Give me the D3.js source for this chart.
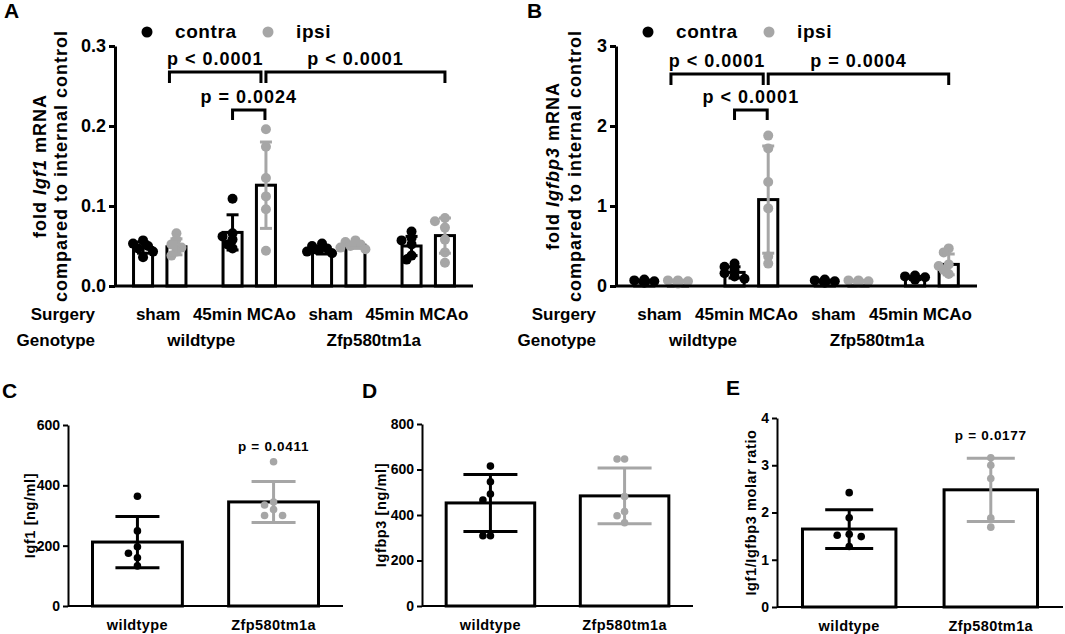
<!DOCTYPE html>
<meta charset="utf-8">
<style>
body { margin: 0; background: #fff; }
svg text { font-family: "Liberation Sans", Arial, sans-serif; font-weight: bold; fill: #000; }
</style>
<body>
<svg width="1065" height="634"></svg>
<script src="https://d3js.org/d3.v7.min.js"></script>
<script>

// ---- data ----
var groups = ["sham_wt", "mcao_wt", "sham_ko", "mcao_ko"],
    sides = ["contra", "ipsi"],
    surgery = ["sham", "45min MCAo", "sham", "45min MCAo"],
    genotypes = ["wildtype", "Zfp580tm1a"];

// bar order: sham wt contra, sham wt ipsi, MCAo wt contra, MCAo wt ipsi, ... same for Zfp580tm1a
var igf1Mean = [0.048, 0.049, 0.067, 0.126, 0.045, 0.051, 0.050, 0.063],
    igf1Sd   = [0.007, 0.010, 0.022, 0.054, 0.005, 0.004, 0.012, 0.022],
    igf1Pts  = [
      [0.057, 0.053, 0.050, 0.047, 0.043, 0.036],
      [0.066, 0.058, 0.052, 0.048, 0.043, 0.038],
      [0.109, 0.066, 0.062, 0.058, 0.052, 0.047],
      [0.196, 0.174, 0.135, 0.112, 0.096, 0.044],
      [0.053, 0.050, 0.047, 0.045, 0.043, 0.041],
      [0.057, 0.055, 0.052, 0.050, 0.048, 0.046],
      [0.068, 0.060, 0.057, 0.052, 0.038, 0.033],
      [0.085, 0.081, 0.073, 0.058, 0.042, 0.029]
    ],
    igf1P = ["p < 0.0001", "p < 0.0001", "p = 0.0024"];

var bp3Mean = [0.06, 0.06, 0.17, 1.08, 0.06, 0.06, 0.10, 0.27],
    bp3Sd   = [0.015, 0.012, 0.07, 0.67, 0.015, 0.012, 0.02, 0.13],
    bp3Pts  = [
      [0.08, 0.07, 0.06, 0.05, 0.05, 0.04],
      [0.07, 0.07, 0.06, 0.06, 0.05, 0.03],
      [0.28, 0.24, 0.20, 0.16, 0.12, 0.09],
      [1.88, 1.72, 1.30, 0.97, 0.37, 0.28],
      [0.08, 0.07, 0.06, 0.05, 0.05, 0.04],
      [0.07, 0.07, 0.06, 0.06, 0.05, 0.04],
      [0.13, 0.12, 0.11, 0.10, 0.09, 0.08],
      [0.47, 0.42, 0.27, 0.25, 0.20, 0.15]
    ],
    bp3P = ["p < 0.0001", "p = 0.0004", "p < 0.0001"];

var serumIgf1Mean = [212, 345], serumIgf1Sd = [85, 68],
    serumIgf1Pts = [[364, 249, 196, 175, 160, 133], [478, 345, 335, 320, 300, 300]],
    serumIgf1P = "p = 0.0411";

var serumBp3Mean = [453, 484], serumBp3Sd = [125, 123],
    serumBp3Pts = [[615, 546, 492, 466, 309, 309], [646, 646, 481, 415, 397, 366]];

var ratioMean = [1.65, 2.48], ratioSd = [0.41, 0.67],
    ratioPts = [[2.42, 1.89, 1.54, 1.52, 1.49, 1.28], [3.16, 3.00, 2.72, 1.88, 1.69]],
    ratioP = "p = 0.0177";

var GREY = "#a6a6a6";
var svg = d3.select("svg");

// simple beeswarm: spread overlapping dots sideways
function swarm(vals, y, r, step, tight) {
  var placed = [];
  return vals.map(function(v) {
    var py = y(v), off = 0;
    var tries = [0, -1, 1, -2, 2, -3, 3];
    for (var i = 0; i < tries.length; i++) {
      var ox = tries[i] * step;
      if (placed.every(function(p) { return Math.hypot(p.x - ox, p.y - py) >= 2 * r * tight; })) { off = ox; break; }
    }
    placed.push({x: off, y: py});
    return {v: v, dx: off};
  });
}

function mrnaPanel(o) {
  var g = svg.append("g");
  var y = d3.scaleLinear().domain([0, o.max]).range([286, 46]);
  var xg = d3.scaleBand().domain(groups).range([o.x0, o.x1]).paddingInner(0.25).paddingOuter(0.125);
  var xs = d3.scaleBand().domain(sides).range([0, xg.bandwidth()]).paddingInner(0.43).paddingOuter(0.22);
  var cx = function(i) { return xg(groups[i >> 1]) + xs(sides[i & 1]) + xs.bandwidth() / 2; };

  // bars
  o.mean.forEach(function(m, i) {
    g.append("rect")
      .attr("x", cx(i) - xs.bandwidth() / 2).attr("width", xs.bandwidth())
      .attr("y", y(m)).attr("height", y(0) - y(m))
      .attr("fill", "#fff").attr("stroke", "#000").attr("stroke-width", 3);
  });
  // points
  o.pts.forEach(function(arr, i) {
    var col = (i & 1) ? GREY : "#000";
    swarm(arr, y, 5, 5, 0.6).forEach(function(p) {
      g.append("circle").attr("cx", cx(i) + p.dx).attr("cy", y(p.v)).attr("r", 5).attr("fill", col);
    });
  });
  // SD error bars
  o.mean.forEach(function(m, i) {
    var col = (i & 1) ? GREY : "#000", x = cx(i), s = o.sd[i];
    var e = g.append("g").attr("stroke", col).attr("stroke-width", 3);
    e.append("line").attr("x1", x).attr("x2", x).attr("y1", y(m + s)).attr("y2", y(Math.max(0, m - s)));
    [m + s, m - s].forEach(function(v) {
      e.append("line").attr("x1", x - 6).attr("x2", x + 6).attr("y1", y(v)).attr("y2", y(v));
    });
  });

  // axes
  var ya = g.append("g").attr("transform", "translate(" + o.x0 + ",0)")
    .call(d3.axisLeft(y).tickValues(o.ticks).tickFormat(d3.format(o.fmt)).tickSize(6).tickSizeOuter(0).tickPadding(3));
  ya.selectAll("path, line").attr("stroke-width", 3);
  ya.selectAll("text").style("font-size", "18px").style("font-family", null);
  var xa = g.append("g").attr("transform", "translate(0," + y(0) + ")")
    .call(d3.axisBottom(xg).tickSize(0).tickSizeOuter(0).tickFormat(""));
  xa.select("path").attr("stroke-width", 3).attr("d", "M" + o.x0 + ",0H" + o.x1);

  // significance brackets
  var br = [[1, 3, o.yBig, -7, -5], [3, 7, o.yBig, 0, 0], [2, 3, o.ySmall, 0, -1]];
  br.forEach(function(b, k) {
    var xa1 = cx(b[0]) + b[3], xb1 = cx(b[1]) + b[4], yy = y(b[2]), leg = k == 2 ? 10 : 11;
    g.append("path").attr("fill", "none").attr("stroke", "#000").attr("stroke-width", 3)
      .attr("d", "M" + xa1 + "," + (yy + leg) + "V" + yy + "H" + xb1 + "V" + (yy + leg));
    g.append("text").attr("x", (xa1 + xb1) / 2).attr("y", yy - 7).attr("text-anchor", "middle")
      .style("font-size", "18px").style("letter-spacing", "1px").text(o.p[k]);
  });

  // legend
  sides.forEach(function(s, k) {
    var lx = o.x0 + 32 + k * 121;
    g.append("circle").attr("cx", lx).attr("cy", 32).attr("r", 5.5).attr("fill", k ? GREY : "#000");
    g.append("text").attr("x", lx + 28).attr("y", 38).style("font-size", "19px").style("letter-spacing", "0.6px").text(s);
  });

  // y title (two lines, gene name in italics)
  var yc = (y(0) + y(o.max)) / 2;
  var t1 = g.append("text").attr("transform", "translate(" + o.t1x + "," + yc + ") rotate(-90)")
    .attr("text-anchor", "middle").style("font-size", "18px").style("letter-spacing", "1px");
  t1.append("tspan").text("fold ");
  t1.append("tspan").style("font-style", "italic").text(o.gene);
  t1.append("tspan").text(" mRNA");
  g.append("text").attr("transform", "translate(" + o.t2x + "," + yc + ") rotate(-90)")
    .attr("text-anchor", "middle").style("font-size", "18px").style("letter-spacing", "1px")
    .text("compared to internal control");

  // category rows
  var lab = d3.scaleBand().domain(groups).range([o.x0, o.x1 - 13]);
  g.append("text").attr("x", o.x0 - 20).attr("y", 320).attr("text-anchor", "end").style("font-size", "17px").text("Surgery");
  g.append("text").attr("x", o.x0 - 20).attr("y", 346).attr("text-anchor", "end").style("font-size", "17px").text("Genotype");
  surgery.forEach(function(s, i) {
    g.append("text").attr("x", lab(groups[i]) + lab.bandwidth() / 2).attr("y", 320)
      .attr("text-anchor", "middle").style("font-size", "17px").text(s);
  });
  genotypes.forEach(function(s, k) {
    var xm = (lab(groups[2 * k]) + lab(groups[2 * k + 1])) / 2 + lab.bandwidth() / 2;
    g.append("text").attr("x", xm).attr("y", 346).attr("text-anchor", "middle").style("font-size", "17px").text(s);
  });

  g.append("text").attr("x", o.lx).attr("y", 18).style("font-size", "21px").text(o.letter);
}

mrnaPanel({x0: 115, x1: 473, max: 0.3, ticks: [0, 0.1, 0.2, 0.3], fmt: ".1f",
  mean: igf1Mean, sd: igf1Sd, pts: igf1Pts, p: igf1P, yBig: 0.2675, ySmall: 0.22,
  gene: "Igf1", t1x: 46, t2x: 67, lx: 4, letter: "A"});
mrnaPanel({x0: 616, x1: 977, max: 3, ticks: [0, 1, 2, 3], fmt: "d",
  mean: bp3Mean, sd: bp3Sd, pts: bp3Pts, p: bp3P, yBig: 2.65, ySmall: 2.2,
  gene: "Igfbp3", t1x: 559, t2x: 581, lx: 527, letter: "B"});

function serumPanel(o) {
  var g = svg.append("g");
  var y = d3.scaleLinear().domain([0, o.max]).range([o.y0, o.y1]);
  var x = d3.scaleBand().domain(genotypes).range([o.x0, o.x1]).paddingInner(0.34).paddingOuter(0.18);
  var cx = function(i) { return x(genotypes[i]) + x.bandwidth() / 2; };

  o.mean.forEach(function(m, i) {
    g.append("rect").attr("x", x(genotypes[i])).attr("width", x.bandwidth())
      .attr("y", y(m)).attr("height", y(0) - y(m))
      .attr("fill", "#fff").attr("stroke", "#000").attr("stroke-width", 3);
  });
  o.pts.forEach(function(arr, i) {
    swarm(arr, y, 3.8, o.step, 0.85).forEach(function(p) {
      g.append("circle").attr("cx", cx(i) + p.dx).attr("cy", y(p.v)).attr("r", 3.8).attr("fill", i ? GREY : "#000");
    });
  });
  o.mean.forEach(function(m, i) {
    var e = g.append("g").attr("stroke", i ? GREY : "#000").attr("stroke-width", 3), xc = cx(i), s = o.sd[i];
    e.append("line").attr("x1", xc).attr("x2", xc).attr("y1", y(m + s)).attr("y2", y(m - s));
    [m + s, m - s].forEach(function(v) {
      e.append("line").attr("x1", xc - o.cap).attr("x2", xc + o.cap).attr("y1", y(v)).attr("y2", y(v));
    });
  });

  var ya = g.append("g").attr("transform", "translate(" + o.x0 + ",0)")
    .call(d3.axisLeft(y).tickValues(o.ticks).tickFormat(d3.format("d")).tickSize(5).tickSizeOuter(0).tickPadding(3));
  ya.selectAll("path, line").attr("stroke-width", 2);
  ya.selectAll("text").style("font-size", "14px").style("font-family", null);
  var xa = g.append("g").attr("transform", "translate(0," + y(0) + ")")
    .call(d3.axisBottom(x).tickSize(0).tickSizeOuter(0).tickPadding(14));
  xa.select("path").attr("stroke-width", 2).attr("d", "M" + o.x0 + ",0H" + o.x1);
  xa.selectAll("text").style("font-size", "14.5px").style("letter-spacing", "0.4px").style("font-family", null);

  if (o.p) {
    g.append("text").attr("x", cx(1)).attr("y", y(o.pY)).attr("text-anchor", "middle")
      .style("font-size", "13.5px").style("letter-spacing", "0.7px").text(o.p);
  }
  g.append("text").attr("transform", "translate(" + o.tx + "," + (o.y0 + o.y1) / 2 + ") rotate(-90)")
    .attr("text-anchor", "middle").style("font-size", "14.5px").style("letter-spacing", "0.6px").text(o.title);
  g.append("text").attr("x", o.lx).attr("y", o.ly).style("font-size", "21px").text(o.letter);
}

serumPanel({x0: 68, x1: 343, y0: 606, y1: 425, max: 600, ticks: [0, 200, 400, 600],
  mean: serumIgf1Mean, sd: serumIgf1Sd, pts: serumIgf1Pts, cap: 22, step: 9,
  p: serumIgf1P, pY: 514, title: "Igf1 [ng/ml]", tx: 35, lx: 2, ly: 398, letter: "C"});
serumPanel({x0: 422, x1: 693, y0: 606, y1: 424, max: 800, ticks: [0, 200, 400, 600, 800],
  mean: serumBp3Mean, sd: serumBp3Sd, pts: serumBp3Pts, cap: 27, step: 7.5,
  title: "Igfbp3 [ng/ml]", tx: 386, lx: 362, ly: 398, letter: "D"});
serumPanel({x0: 777, x1: 1063, y0: 607, y1: 418, max: 4, ticks: [0, 1, 2, 3, 4],
  mean: ratioMean, sd: ratioSd, pts: ratioPts, cap: 24, step: 12,
  p: ratioP, pY: 3.53, title: "Igf1/Igfbp3 molar ratio", tx: 756, lx: 726, ly: 395, letter: "E"});

</script>
</body>
